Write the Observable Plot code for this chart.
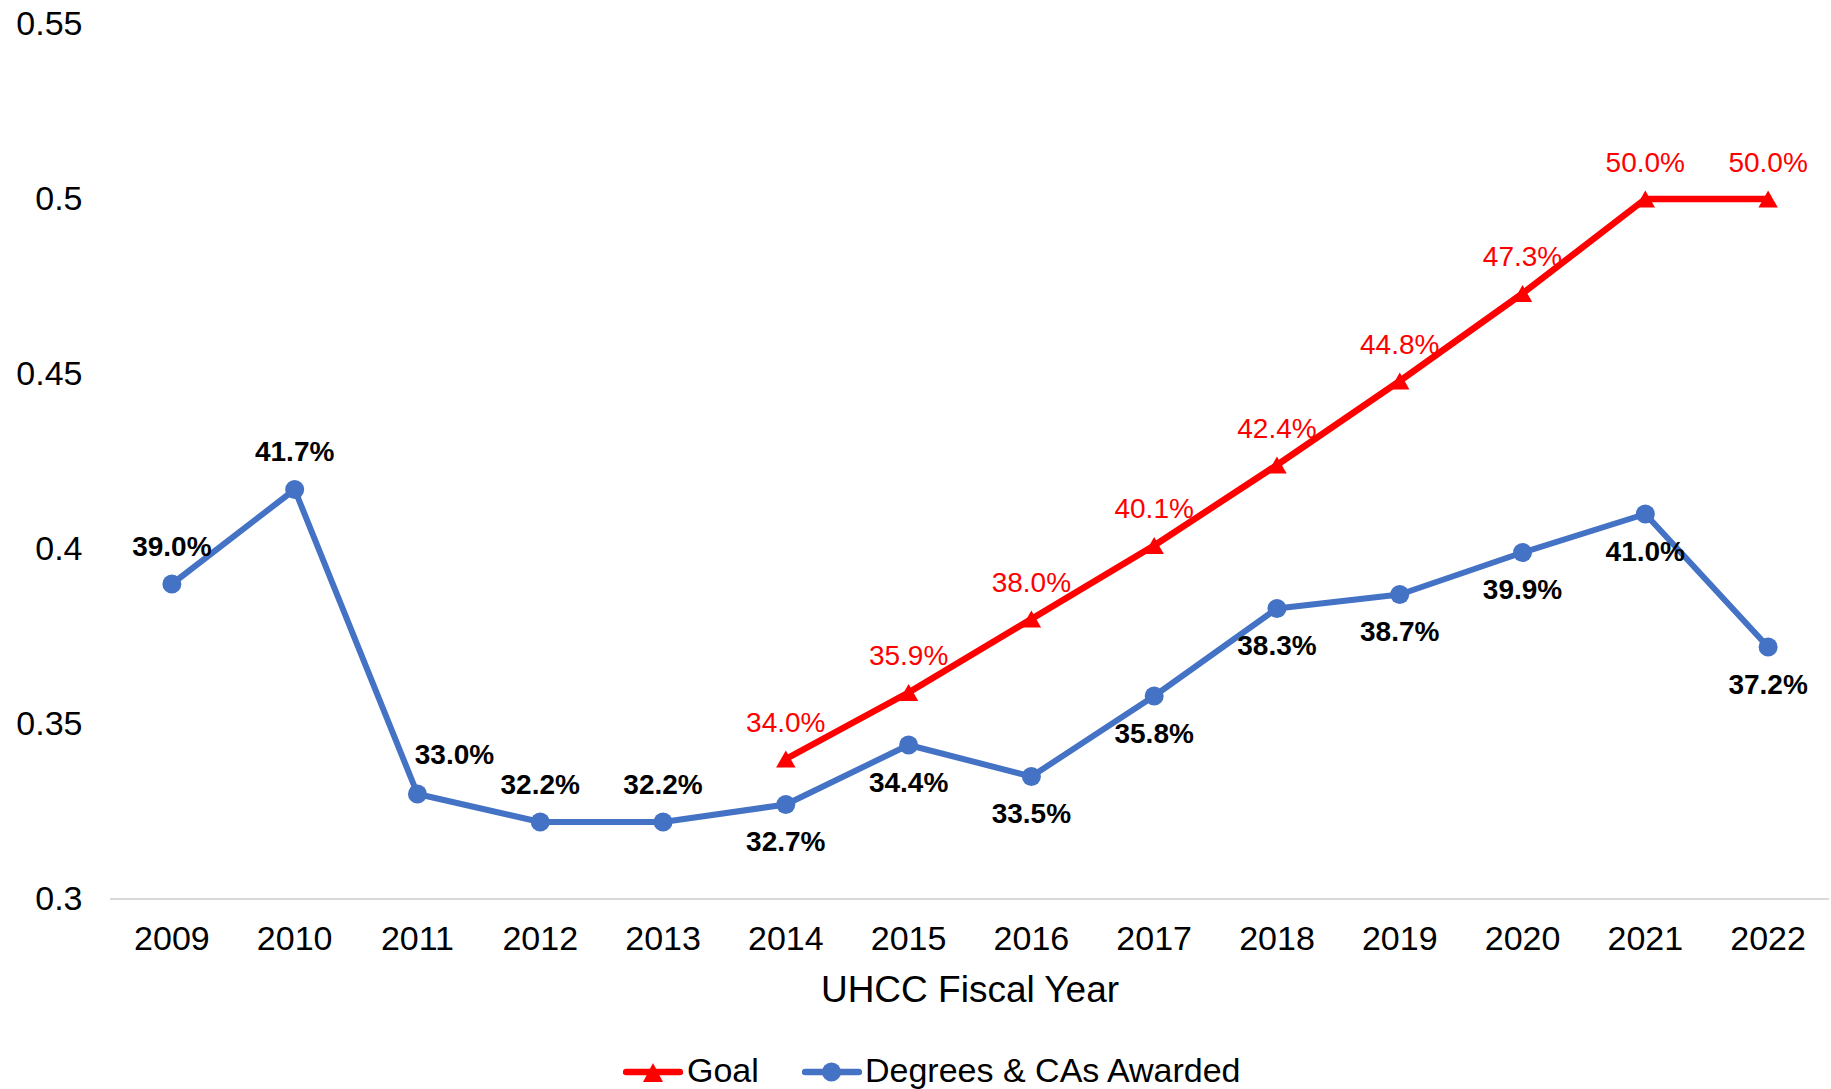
<!DOCTYPE html>
<html>
<head>
<meta charset="utf-8">
<script src="https://cdn.jsdelivr.net/npm/d3@7"></script>
<script src="https://cdn.jsdelivr.net/npm/@observablehq/plot@0.6"></script>
<style>
  html, body { margin: 0; padding: 0; background: #fff; }
  #wrap { position: relative; width: 1831px; height: 1089px; font-family: "Liberation Sans", Arial, sans-serif; background:#fff; }
  .lg { position: absolute; top: 1045px; height: 50px; }
  .lgtext { position: absolute; top: 1045px; height: 50px; line-height: 50px; font-size: 34px; color: #000; white-space: nowrap; }
</style>
</head>
<body>
<div id="wrap"><div id="chart"></div></div>
<script>
const years = [2009, 2010, 2011, 2012, 2013, 2014, 2015, 2016, 2017, 2018, 2019, 2020, 2021, 2022];
const degreesPct = [39.0, 41.7, 33.0, 32.2, 32.2, 32.7, 34.4, 33.5, 35.8, 38.3, 38.7, 39.9, 41.0, 37.2];
const goalYears = [2014, 2015, 2016, 2017, 2018, 2019, 2020, 2021, 2022];
const goalPct = [34.0, 35.9, 38.0, 40.1, 42.4, 44.8, 47.3, 50.0, 50.0];
const yTicks = [0.3, 0.35, 0.4, 0.45, 0.5, 0.55];
const xLabel = "UHCC Fiscal Year";
const seriesNames = ["Goal", "Degrees & CAs Awarded"];
const seriesColors = ["#FF0000", "#4472C4"];

const degrees = years.map((year, i) => ({year, value: degreesPct[i] / 100, label: degreesPct[i].toFixed(1) + "%"}));
const goal = goalYears.map((year, i) => ({year, value: goalPct[i] / 100, label: goalPct[i].toFixed(1) + "%"}));

// Triangle symbol centred on its bounding box (as in the spreadsheet chart)
const boxTriangle = {
  draw(context, size) {
    const s = Math.sqrt(size * 4 / Math.sqrt(3)); // side length for given area
    const h = s * Math.sqrt(3) / 2;
    context.moveTo(0, -h / 2);
    context.lineTo(s / 2, h / 2);
    context.lineTo(-s / 2, h / 2);
    context.closePath();
  }
};

const chart = Plot.plot({
  width: 1831,
  height: 1035,
  marginTop: 23.5,
  marginBottom: 136.5,
  marginLeft: 110,
  marginRight: 2,
  style: {fontFamily: "'Liberation Sans', Arial, sans-serif", fontSize: "34px", color: "#000", background: "#fff", overflow: "visible"},
  x: {domain: [2008.5, 2022.5], ticks: years, tickFormat: "d", tickSize: 0, tickPadding: 26.5, label: null},
  y: {domain: [0.3, 0.55], ticks: yTicks, tickFormat: d => String(d), tickSize: 0, tickPadding: 28, label: null},
  marks: [
    Plot.ruleY([0.3], {stroke: "#d9d9d9", strokeWidth: 2}),
    Plot.line(goal, {x: "year", y: "value", stroke: seriesColors[0], strokeWidth: 6.5}),
    Plot.dot(goal, {x: "year", y: "value", symbol: boxTriangle, r: 7.2, fill: seriesColors[0]}),
    Plot.line(degrees, {x: "year", y: "value", stroke: seriesColors[1], strokeWidth: 6}),
    Plot.dot(degrees, {x: "year", y: "value", r: 9.5, fill: seriesColors[1]}),
    Plot.text(goal, {x: "year", y: "value", text: "label", dy: -36, fill: seriesColors[0], fontSize: 28}),
    Plot.text(degrees, {filter: d => d.year <= 2013 && d.year !== 2011, x: "year", y: "value", text: "label", dy: -37, fill: "#000", fontWeight: "bold", fontSize: 28}),
    Plot.text(degrees, {filter: d => d.year === 2011, x: "year", y: "value", text: "label", dx: 37, dy: -39, fill: "#000", fontWeight: "bold", fontSize: 28}),
    Plot.text(degrees, {filter: d => d.year >= 2014, x: "year", y: "value", text: "label", dy: 38, fill: "#000", fontWeight: "bold", fontSize: 28}),
    Plot.text([xLabel], {frameAnchor: "bottom", dy: 102.5, fill: "#000", fontSize: 37})
  ]
});
document.getElementById("chart").appendChild(chart);

// Legend (below the SVG)
const wrap = document.getElementById("wrap");
const ns = "http://www.w3.org/2000/svg";
function swatch(left, color, kind) {
  const svg = document.createElementNS(ns, "svg");
  svg.setAttribute("class", "lg");
  svg.setAttribute("width", 60);
  svg.setAttribute("height", 50);
  svg.style.left = left + "px";
  const line = document.createElementNS(ns, "line");
  line.setAttribute("x1", 3); line.setAttribute("x2", 57);
  line.setAttribute("y1", 27); line.setAttribute("y2", 27);
  line.setAttribute("stroke", color); line.setAttribute("stroke-width", 6.5);
  line.setAttribute("stroke-linecap", "round");
  svg.appendChild(line);
  if (kind === "triangle") {
    const p = document.createElementNS(ns, "polygon");
    p.setAttribute("points", "30,18 40,37 20,37");
    p.setAttribute("fill", color);
    svg.appendChild(p);
  } else {
    const c = document.createElementNS(ns, "circle");
    c.setAttribute("cx", 29.5); c.setAttribute("cy", 27);
    c.setAttribute("r", 9.5);
    c.setAttribute("fill", color);
    svg.appendChild(c);
  }
  wrap.appendChild(svg);
}
function label(left, text) {
  const s = document.createElement("div");
  s.className = "lgtext";
  s.style.left = left + "px";
  s.textContent = text;
  wrap.appendChild(s);
}
swatch(623, seriesColors[0], "triangle");
label(687, seriesNames[0]);
swatch(802, seriesColors[1], "circle");
label(865, seriesNames[1]);
</script>
</body>
</html>
